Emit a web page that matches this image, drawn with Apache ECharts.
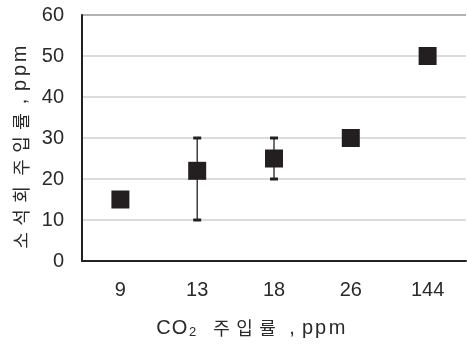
<!DOCTYPE html>
<html><head><meta charset="utf-8">
<script src="https://cdn.jsdelivr.net/npm/echarts@6/dist/echarts.min.js"></script>
<style>html,body{margin:0;padding:0;background:#fff}#c{width:467px;height:344px}</style>
</head><body><div id="c"></div>
<script>
const categories = ['9', '13', '18', '26', '144'];
const values = [15, 22, 25, 30, 50];
const errLow = [null, 10, 20, null, null];
const errHigh = [null, 30, 30, null, null];
const yTicks = [0, 10, 20, 30, 40, 50, 60];

const chart = echarts.init(document.getElementById('c'));
const numFont = 'Liberation Sans';
const krFont = 'Noto Sans CJK KR';
const ink = '#2a2a2a';

// wide letter-spaced axis titles, built from styled text runs
const xName = '{c|C}{o|O}{s|2}{sp| }{h|주}{h|입}{h|률}{cm|,}{p|p}{p|p}{m|m}';
const yName = '{h|소}{h|석}{h|회}{sp4| }{h|주}{h|입}{h|률}{cm|,}{p|p}{p|p}{m|m}';
const richX = {
  c: {fontFamily: numFont, fontSize: 20, width: 17, align: 'center', color: ink},
  o: {fontFamily: numFont, fontSize: 20, width: 15, align: 'center', color: ink},
  s: {fontFamily: numFont, fontSize: 13, width: 11, align: 'center', color: ink, verticalAlign: 'bottom', padding: [9, 0, 0, 0]},
  sp: {fontSize: 12, width: 12},
  h: {fontFamily: krFont, fontSize: 18, width: 23, align: 'center', color: ink},
  cm: {fontFamily: numFont, fontSize: 20, width: 18, align: 'left', color: ink, padding: [0, 0, 0, 4]},
  p: {fontFamily: numFont, fontSize: 20, width: 13, align: 'center', color: ink},
  m: {fontFamily: numFont, fontSize: 20, width: 20, align: 'center', color: ink}
};
const richY = {
  h: {fontFamily: krFont, fontSize: 18, width: 23, align: 'center', color: ink},
  sp4: {fontSize: 12, width: 4},
  cm: {fontFamily: numFont, fontSize: 20, width: 17, align: 'center', color: ink},
  p: {fontFamily: numFont, fontSize: 20, width: 15, align: 'center', color: ink},
  m: {fontFamily: numFont, fontSize: 20, width: 18, align: 'center', color: ink}
};

chart.setOption({
  animation: false,
  grid: {left: 82, right: 1, top: 15, bottom: 80},
  xAxis: {
    type: 'category', data: categories,
    axisLine: {lineStyle: {color: '#222', width: 2}},
    axisTick: {inside: true, length: 7, lineStyle: {color: '#222', width: 1.5}},
    axisLabel: {color: ink, fontSize: 20, fontFamily: numFont, margin: 19},
    name: xName, nameLocation: 'middle', nameGap: 56,
    nameTextStyle: {color: ink, fontSize: 18, fontFamily: krFont, padding: [0, 46, 0, 0], rich: richX}
  },
  yAxis: {
    type: 'value', min: yTicks[0], max: yTicks[yTicks.length - 1], interval: 10,
    axisLine: {show: true, lineStyle: {color: '#222', width: 2}},
    axisTick: {show: false},
    axisLabel: {color: ink, fontSize: 20, fontFamily: numFont, margin: 18},
    splitLine: {lineStyle: {color: ['#ccc', '#d0d0d0', '#d0d0d0', '#d0d0d0', '#d0d0d0', '#d0d0d0', '#999'], width: 1.5}},
    name: yName, nameLocation: 'middle', nameGap: 46,
    nameTextStyle: {color: ink, fontSize: 18, fontFamily: krFont, padding: [0, 21, 0, 0], rich: richY}
  },
  series: [
    {
      type: 'custom',
      renderItem: function (params, api) {
        const lo = api.value(1), hi = api.value(2);
        if (lo == null || isNaN(lo)) return null;
        const p1 = api.coord([api.value(0), lo]);
        const p2 = api.coord([api.value(0), hi]);
        const cw = 8;
        return {type: 'group', children: [
          {type: 'line', shape: {x1: p1[0], y1: p1[1], x2: p2[0], y2: p2[1]}, style: {stroke: '#222', lineWidth: 1.3}},
          {type: 'rect', shape: {x: p1[0] - cw / 2, y: p1[1] - 1.5, width: cw, height: 3}, style: {fill: '#222'}},
          {type: 'rect', shape: {x: p2[0] - cw / 2, y: p2[1] - 1.5, width: cw, height: 3}, style: {fill: '#222'}}
        ]};
      },
      data: categories.map((c, i) => [i, errLow[i], errHigh[i]]),
      z: 2
    },
    {
      type: 'scatter', data: values, symbol: 'rect', symbolSize: 18,
      itemStyle: {color: '#231f20', opacity: 1}, z: 3
    }
  ]
});
</script></body></html>
